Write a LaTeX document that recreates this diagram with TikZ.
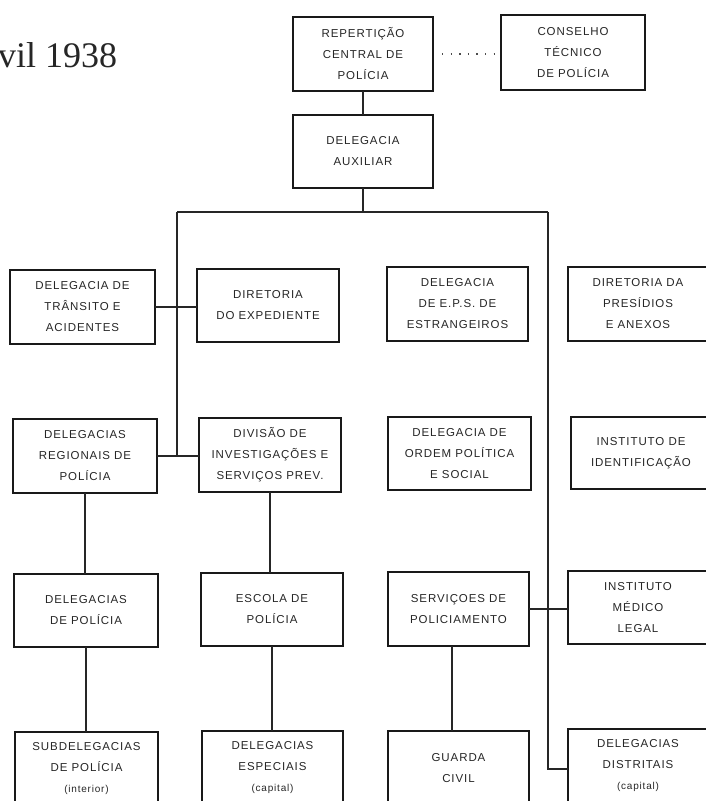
\documentclass[tikz,border=0pt]{standalone}
\usepackage{fontspec}
\newfontfamily\boxfont[LetterSpace=8]{Liberation Sans}
\newfontfamily\titlefont{Liberation Serif}
\newcommand\sm[1]{{\fontsize{10}{21}\selectfont #1}}
\begin{document}
\begin{tikzpicture}[x=1pt,y=-1pt,
  box/.style={draw=black!90,line width=1.4pt,inner sep=0pt,outer sep=0pt,align=center,
    text=black!85,font=\boxfont\fontsize{11.5}{21}\selectfont},
  link/.style={draw=black!85,line width=1.5pt},
  dotline/.style={draw=black!70,line width=1.4pt,dash pattern=on 1.4pt off 7.2pt}]
\useasboundingbox (0,0) rectangle (706,801);
\fill[white] (0,0) rectangle (706,801);
\node[anchor=base west,inner sep=0pt,font=\titlefont\fontsize{36}{40}\selectfont,text=black!85] (title) at (-2,67) {vil 1938};
\node[box,minimum width=140pt,minimum height=74pt] (rep) at (363,54) {REPERTIÇÃO\\CENTRAL DE\\POLÍCIA};
\node[box,minimum width=144pt,minimum height=75pt] (cons) at (573,52.5) {CONSELHO\\TÉCNICO\\DE POLÍCIA};
\node[box,minimum width=140pt,minimum height=73pt] (aux) at (363,151.5) {DELEGACIA\\AUXILIAR};
\node[box,minimum width=145pt,minimum height=74pt] (trans) at (82.5,307) {DELEGACIA DE\\TRÂNSITO E\\ACIDENTES};
\node[box,minimum width=142pt,minimum height=73pt] (direxp) at (268,305.5) {DIRETORIA\\DO EXPEDIENTE};
\node[box,minimum width=141pt,minimum height=74pt] (eps) at (457.5,304) {DELEGACIA\\DE E.P.S. DE\\ESTRANGEIROS};
\node[box,minimum width=140pt,minimum height=74pt] (pres) at (638,304) {DIRETORIA DA\\PRESÍDIOS\\E ANEXOS};
\node[box,minimum width=144pt,minimum height=74pt] (regio) at (85,456) {DELEGACIAS\\REGIONAIS DE\\POLÍCIA};
\node[box,minimum width=142pt,minimum height=74pt] (divis) at (270,455) {DIVISÃO DE\\INVESTIGAÇÕES E\\SERVIÇOS PREV.};
\node[box,minimum width=143pt,minimum height=73pt] (ordem) at (459.5,453.5) {DELEGACIA DE\\ORDEM POLÍTICA\\E SOCIAL};
\node[box,minimum width=140pt,minimum height=72pt] (ident) at (641,453) {INSTITUTO DE\\IDENTIFICAÇÃO};
\node[box,minimum width=144pt,minimum height=73pt] (delpol) at (86,610.5) {DELEGACIAS\\DE POLÍCIA};
\node[box,minimum width=142pt,minimum height=73pt] (escola) at (272,609.5) {ESCOLA DE\\POLÍCIA};
\node[box,minimum width=141pt,minimum height=74pt] (servic) at (458.5,609) {SERVIÇOES DE\\POLICIAMENTO};
\node[box,minimum width=140pt,minimum height=73pt] (iml) at (638,607.5) {INSTITUTO\\MÉDICO\\LEGAL};
\node[box,minimum width=143pt,minimum height=74pt] (subdel) at (86.5,769) {SUBDELEGACIAS\\DE POLÍCIA\\\sm{(interior)}};
\node[box,minimum width=141pt,minimum height=74pt] (delesp) at (272.5,768) {DELEGACIAS\\ESPECIAIS\\\sm{(capital)}};
\node[box,minimum width=141pt,minimum height=74pt] (guarda) at (458.5,768) {GUARDA\\CIVIL};
\node[box,minimum width=140pt,minimum height=74pt] (distr) at (638,766) {DELEGACIAS\\DISTRITAIS\\\sm{(capital)}};
\coordinate (busL) at (177,212);
\coordinate (busR) at (548,212);
\coordinate (hook) at (548,769);
\coordinate (gtop) at (452,646);
\draw[dotline] ([xshift=9pt]rep.east) -- ([xshift=-7pt]cons.west |- rep.east);
\draw[link] (rep.south) -- (aux.north);
\draw[link] (aux.south) -- (aux.south |- busL);
\draw[link] (busL) -- (busR);
\draw[link] (busL) -- (busL |- regio.east);
\draw[link] (trans.east) -- (trans.east -| direxp.west);
\draw[link] (regio.east) -- (regio.east -| divis.west);
\draw[link] (regio.south) -- (regio.south |- delpol.north);
\draw[link] (delpol.south) -- (delpol.south |- subdel.north);
\draw[link] (divis.south) -- (divis.south |- escola.north);
\draw[link] (escola.south) -- (escola.south |- delesp.north);
\draw[link] (gtop |- servic.south) -- (gtop |- guarda.north);
\draw[link] (servic.east) -- (servic.east -| iml.west);
\draw[link] (busR) -- (hook) -- (hook -| distr.west);
\end{tikzpicture}
\end{document}
